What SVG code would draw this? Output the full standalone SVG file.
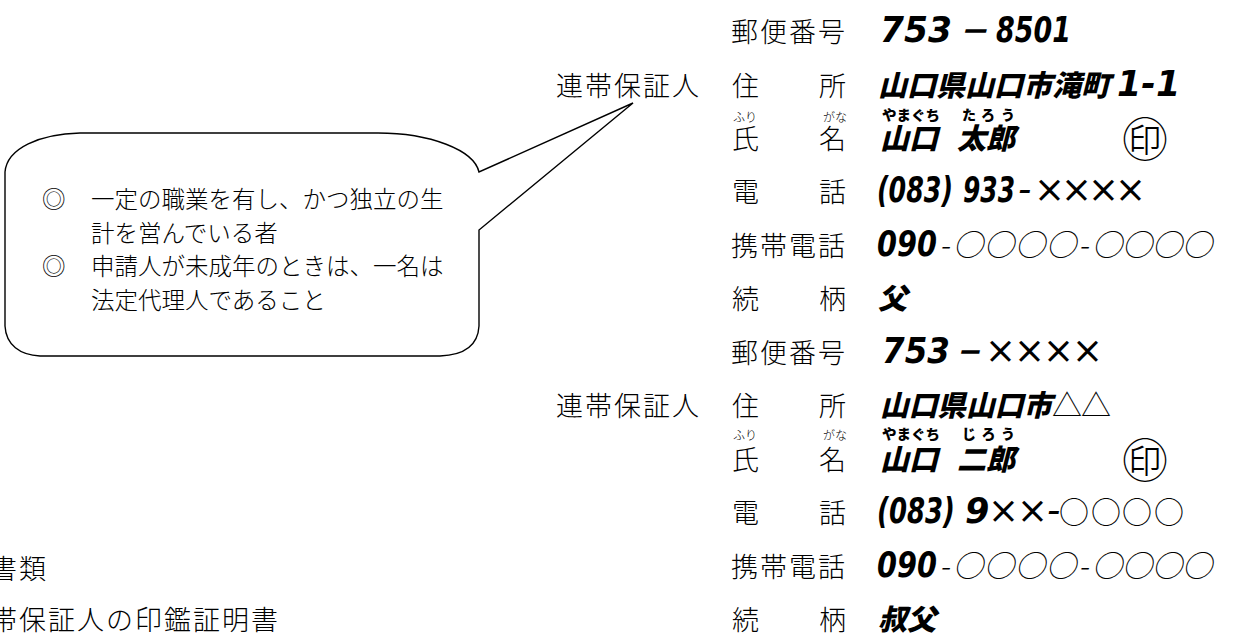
<svg xmlns="http://www.w3.org/2000/svg" width="1239" height="642" viewBox="0 0 1239 642">
<style>
text { fill:#000; }
.lbl { font-family:"Noto Sans CJK JP","Noto Sans CJK SC",sans-serif; font-size:27px; font-weight:300; }
.l4 { letter-spacing:2px; }
.rb { font-family:"Noto Sans CJK JP",sans-serif; font-size:12px; font-weight:300; }
.cj { font-family:"Noto Sans CJK JP",sans-serif; font-weight:900; font-style:italic; font-size:29px; }
.num { font-family:"DejaVu Sans","Noto Sans CJK JP",sans-serif; font-weight:bold; font-style:italic; font-size:35px; }
.thin { font-family:"Noto Sans CJK JP",sans-serif; font-style:italic; font-size:30px; font-weight:300; }
.x { font-family:"DejaVu Sans","Noto Sans CJK JP",sans-serif; font-style:oblique; font-size:37px; }
.up { font-family:"Noto Sans CJK JP",sans-serif; font-size:30px; font-weight:300; }
.kana { font-family:"Noto Sans CJK JP",sans-serif; font-weight:900; font-size:14px; }
.seal { font-family:"Noto Sans CJK JP",sans-serif; font-size:46px; text-anchor:middle; font-weight:300; }
.co { font-family:"Noto Sans CJK JP",sans-serif; font-size:23.5px; font-weight:300; }
.box { fill:#fff; stroke:#000; stroke-width:1.4; }
</style>
<g id="connectors"></g>
<g id="callout">
<path class="box" d="M80,133 L378,133 C430,133 474,150 479,172 L633,103 L479,230 L479,326 C478,345 465,355 440,356 L40,356 C20,355 6,345 5,326 L5,172 C7,148 40,134 80,133 Z"/>
<text class="co" x="42" y="208">◎</text>
<text class="co" x="91" y="208">一定の職業を有し、かつ独立の生</text>
<text class="co" x="91" y="242">計を営んでいる者</text>
<text class="co" x="42" y="275">◎</text>
<text class="co" x="91" y="275">申請人が未成年のときは、一名は</text>
<text class="co" x="91" y="309">法定代理人であること</text>
</g>
<g id="attachments">
<text class="lbl l4" x="-10" y="579">書類</text>
<text class="lbl l4" x="-10" y="630">帯保証人の印鑑証明書</text>
</g>
<g id="guarantor1">
<text class="lbl l4" x="731" y="42">郵便番号</text>
<text class="num" x="880" y="42" textLength="72" lengthAdjust="spacingAndGlyphs">753</text>
<text class="cj" x="958" y="42" textLength="30" lengthAdjust="spacingAndGlyphs">－</text>
<text class="num" x="996" y="42" textLength="75" lengthAdjust="spacingAndGlyphs">8501</text>
<text class="lbl l4" x="556" y="95.5">連帯保証人</text>
<text class="lbl" x="732" y="95.5">住</text>
<text class="lbl" x="819" y="95.5">所</text>
<text class="cj" x="878" y="95.5" textLength="232" lengthAdjust="spacingAndGlyphs">山口県山口市滝町</text>
<text class="num" x="1117" y="95.5">1-1</text>
<text class="rb" x="733" y="122">ふり</text>
<text class="rb" x="823" y="122">がな</text>
<text class="kana" x="882" y="120" textLength="58" lengthAdjust="spacingAndGlyphs">やまぐち</text>
<text class="kana" x="962" y="120" textLength="53">たろう</text>
<text class="lbl" x="732" y="149">氏</text>
<text class="lbl" x="819" y="149">名</text>
<text class="cj" x="880" y="149">山口</text>
<text class="cj" x="957" y="149">太郎</text>
<text class="seal" x="1145" y="156">㊞</text>
<text class="lbl" x="732" y="202.4">電</text>
<text class="lbl" x="819" y="202.4">話</text>
<text class="num" x="877" y="202.4" textLength="76" lengthAdjust="spacingAndGlyphs">(083)</text>
<text class="num" x="963" y="202.4" textLength="52" lengthAdjust="spacingAndGlyphs">933</text>
<text class="x" x="1018 1034 1061 1088 1115" y="202.4">-××××</text>
<text class="lbl l4" x="731" y="255.8">携帯電話</text>
<text class="num" x="877" y="255.8" textLength="60" lengthAdjust="spacingAndGlyphs">090</text>
<text class="thin" x="939 953 984 1015 1046 1078 1092 1122 1152 1182" y="255.8">-○○○○-○○○○</text>
<text class="lbl" x="732" y="309.3">続</text>
<text class="lbl" x="819" y="309.3">柄</text>
<text class="cj" x="878" y="309.3">父</text>
</g>
<g id="guarantor2">
<text class="lbl l4" x="731" y="362.7">郵便番号</text>
<text class="num" x="882" y="362.7" textLength="68" lengthAdjust="spacingAndGlyphs">753</text>
<text class="cj" x="955" y="362.7" textLength="26" lengthAdjust="spacingAndGlyphs">－</text>
<text class="x" x="985 1014 1043 1072" y="362.7">××××</text>
<text class="lbl l4" x="556" y="416.2">連帯保証人</text>
<text class="lbl" x="732" y="416.2">住</text>
<text class="lbl" x="819" y="416.2">所</text>
<text class="cj" x="880" y="416.2" textLength="172" lengthAdjust="spacingAndGlyphs">山口県山口市</text>
<text class="up" x="1052 1081" y="416.2">△△</text>
<text class="rb" x="733" y="440">ふり</text>
<text class="rb" x="823" y="440">がな</text>
<text class="kana" x="882" y="438.5" textLength="58" lengthAdjust="spacingAndGlyphs">やまぐち</text>
<text class="kana" x="962" y="438.5" textLength="53">じろう</text>
<text class="lbl" x="732" y="469.6">氏</text>
<text class="lbl" x="819" y="469.6">名</text>
<text class="cj" x="880" y="469.6">山口</text>
<text class="cj" x="957" y="469.6">二郎</text>
<text class="seal" x="1145" y="477">㊞</text>
<text class="lbl" x="732" y="523.1">電</text>
<text class="lbl" x="819" y="523.1">話</text>
<text class="num" x="877" y="523.1" textLength="78" lengthAdjust="spacingAndGlyphs">(083)</text>
<text class="x" x="965 988 1017 1047" y="523.1"><tspan class="num">9</tspan>××-</text>
<text class="up" x="1059 1091 1122 1154" y="523.1">○○○○</text>
<text class="lbl l4" x="731" y="576.5">携帯電話</text>
<text class="num" x="877" y="576.5" textLength="60" lengthAdjust="spacingAndGlyphs">090</text>
<text class="thin" x="939 953 984 1015 1046 1078 1092 1122 1152 1182" y="576.5">-○○○○-○○○○</text>
<text class="lbl" x="732" y="630">続</text>
<text class="lbl" x="819" y="630">柄</text>
<text class="cj" x="878" y="630" textLength="58" lengthAdjust="spacingAndGlyphs">叔父</text>
</g>
</svg>
